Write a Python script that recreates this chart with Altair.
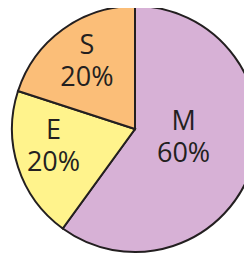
import altair as alt
import pandas as pd

categories = ["M", "E", "S"]
shares = [60, 20, 20]

# styles
colors = ["#D7B1D6", "#FFF38C", "#FBBE78"]
label_shift = [-2.8, 2.0, 0.3]   # shift of label angle from slice middle (percent units)
label_radius = [49, 83, 84]

ends = pd.Series(shares).cumsum()
starts = ends - pd.Series(shares)
df = pd.DataFrame({
    "cat": categories,
    "share": shares,
    "start": starts,
    "end": ends,
    "mid": (starts + ends) / 2 + pd.Series(label_shift),
    "label": [f"{c}\n{s}%" for c, s in zip(categories, shares)],
    "lr": label_radius,
})

cx, cy, R = 127, 121, 123
tscale = alt.Scale(domain=[0, 100], range=[0, 6.283185307])

pie = alt.Chart(df).mark_arc(outerRadius=R, stroke="#231F20", strokeWidth=2).encode(
    theta=alt.Theta("start:Q", scale=tscale),
    theta2="end:Q",
    color=alt.Color("cat:N", scale=alt.Scale(domain=categories, range=colors), legend=None),
    x=alt.value(cx), y=alt.value(cy),
)

labels = alt.Chart(df).mark_text(
    fontSize=27, font="Open Sans", color="#231F20", lineBreak="\n",
    lineHeight=32, baseline="middle", align="center", dy=-14,
).encode(
    theta=alt.Theta("mid:Q", scale=tscale),
    text="label:N",
    radius=alt.Radius("lr:Q", scale=None),
    x=alt.value(cx), y=alt.value(cy),
)

chart = (pie + labels).properties(
    width=236, height=246, padding=0,
    autosize=alt.AutoSizeParams(type="none"),
).configure_view(stroke=None)

chart.save("out.html", embed_options={"renderer": "svg", "actions": False})
